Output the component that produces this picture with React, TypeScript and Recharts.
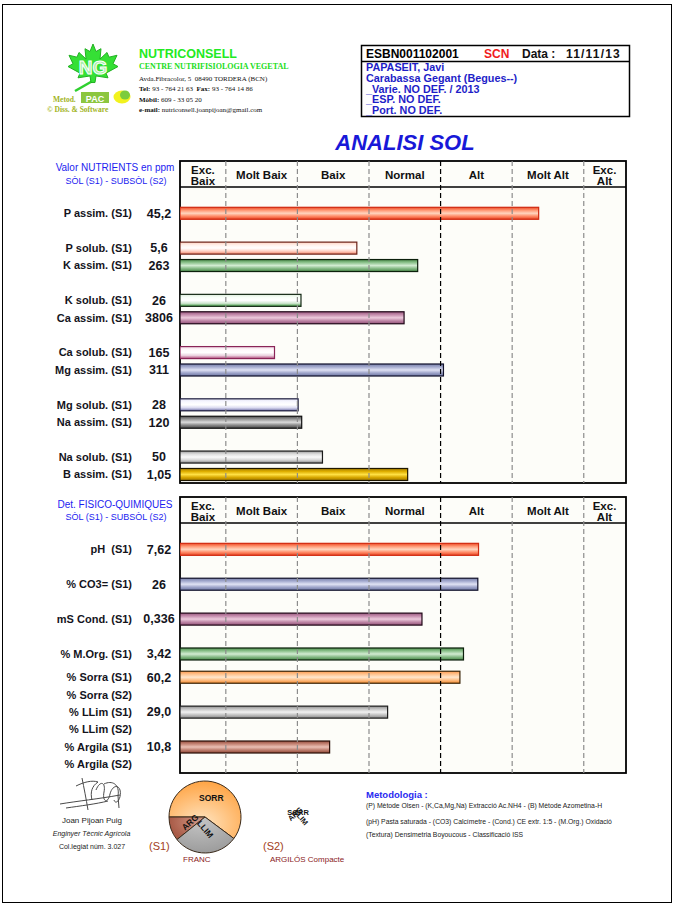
import React from "react";
import { BarChart, Bar, XAxis, YAxis, ReferenceLine, PieChart, Pie, Cell } from "recharts";

const FONT = "'Liberation Sans', Arial, sans-serif";
const SERIF = "'Liberation Serif', 'Times New Roman', serif";

// level scale: one unit per level, the two "Exc." columns are cut short
const LEVEL_LABELS = [["Exc.", "Baix"], ["Molt Baix"], ["Baix"], ["Normal"], ["Alt"], ["Molt Alt"], ["Exc.", "Alt"]];
const LEVEL_TICKS = [0.68, 1.5, 2.5, 3.5, 4.5, 5.5, 6.29];
const LEVEL_EDGES = [1, 2, 3, 4, 5, 6];
const SCALE_DOMAIN = [0.36, 6.59];

const NUTRIENT_NAMES = [
  "P assim. (S1)", "P solub. (S1)", "K assim. (S1)", "K solub. (S1)", "Ca assim. (S1)", "Ca solub. (S1)",
  "Mg assim. (S1)", "Mg solub. (S1)", "Na assim. (S1)", "Na solub. (S1)", "B assim. (S1)",
];
const NUTRIENT_VALUES = ["45,2", "5,6", "263", "26", "3806", "165", "311", "28", "120", "50", "1,05"];
const NUTRIENT_LEVELS = [5.37, 2.83, 3.68, 2.05, 3.49, 1.68, 4.04, 2.01, 2.06, 2.35, 3.54];
const NUTRIENT_COLORS = ["red", "redSol", "green", "greenSol", "mauve", "mauveSol", "lilac", "lilacSol", "grey", "greySol", "gold"];
const NUTRIENT_ROWS = [4, 10, 13, 19, 22, 28, 31, 37, 40, 46, 49];
const NUTRIENT_ROW_COUNT = 51;

const PHYS_NAMES = [
  "pH  (S1)", "% CO3= (S1)", "mS Cond. (S1)", "% M.Org. (S1)", "% Sorra (S1)", "% Sorra (S2)",
  "% LLim (S1)", "% LLim (S2)", "% Argila (S1)", "% Argila (S2)",
];
const PHYS_VALUES = ["7,62", "26", "0,336", "3,42", "60,2", "", "29,0", "", "10,8", ""];
const PHYS_LEVELS = [4.53, 4.52, 3.74, 4.32, 4.27, null, 3.26, null, 2.45, null];
const PHYS_COLORS = ["red", "lilac", "mauve", "green", "orange", "", "silver", "", "brown", ""];
const PHYS_ROWS = [4, 10, 16, 22, 26, 29, 32, 35, 38, 41];
const PHYS_ROW_COUNT = 43;

const TEXTURE_NAMES = ["SORR", "ARG", "LLIM"];
const TEXTURE_S1 = [60.2, 10.8, 29.0];
const TEXTURE_FILLS = ["url(#pie-sorr)", "url(#pie-arg)", "url(#pie-llim)"];
const TEXTURE_LABEL_R = [0.56, 0.44, 0.34];
const TEXTURE_LABEL_ROT = [0, -42, 50];

const PALETTE: Record<string, { stops: string[]; stroke: string }> = {
  red: { stops: ["#ee4a26", "#ff9874", "#ffd4be", "#ff8a66", "#e64424"], stroke: "#d02a10" },
  redSol: { stops: ["#ffd0c0", "#fff2ec", "#ffffff", "#ffd4c6", "#f08468"], stroke: "#6a2218" },
  green: { stops: ["#4c8e4c", "#8cc28c", "#d2ecd2", "#86ba86", "#488848"], stroke: "#0c200c" },
  greenSol: { stops: ["#dcecdc", "#f8fff8", "#ffffff", "#cfe6cf", "#3a963a"], stroke: "#142814" },
  mauve: { stops: ["#98587e", "#c68eae", "#eccadc", "#be86a6", "#925278"], stroke: "#200818" },
  mauveSol: { stops: ["#eed8e4", "#fff8fb", "#ffffff", "#ead0de", "#ae4476"], stroke: "#8a2458" },
  lilac: { stops: ["#767ea8", "#a6acd0", "#e0e2f4", "#9ea4ca", "#6e76a2"], stroke: "#10102a" },
  lilacSol: { stops: ["#e2e2f4", "#f8f8ff", "#ffffff", "#dadaf0", "#6e6ea6"], stroke: "#1a1a3a" },
  grey: { stops: ["#4c4c4c", "#989898", "#dcdcdc", "#888888", "#484848"], stroke: "#101010" },
  greySol: { stops: ["#9c9c9c", "#dedede", "#fafafa", "#d6d6d6", "#848484"], stroke: "#1a1a1a" },
  gold: { stops: ["#a67e00", "#deae00", "#ffe044", "#d6a600", "#9e7600"], stroke: "#201800" },
  orange: { stops: ["#ff9a4e", "#ffc490", "#ffe6cc", "#ffbc80", "#f08a30"], stroke: "#3a2408" },
  silver: { stops: ["#8e8e8e", "#c6c6c6", "#f2f2f2", "#bebebe", "#888888"], stroke: "#1c1c1c" },
  brown: { stops: ["#964e3e", "#c68676", "#eac0b4", "#be7e6e", "#8e4636"], stroke: "#2a1008" },
};

type Row = { key: string; name: string; value: string; level: number | null; color: string };

function buildRows(names: string[], values: string[], levels: (number | null)[], colors: string[], slots: number[], count: number): Row[] {
  const rows: Row[] = Array.from({ length: count }, (_, i) => ({ key: `s${i}`, name: "", value: "", level: null, color: "" }));
  slots.forEach((s, i) => {
    rows[s] = { key: `r${i}`, name: names[i], value: values[i], level: levels[i], color: colors[i] };
  });
  return rows;
}

const nutrientRows = buildRows(NUTRIENT_NAMES, NUTRIENT_VALUES, NUTRIENT_LEVELS, NUTRIENT_COLORS, NUTRIENT_ROWS, NUTRIENT_ROW_COUNT);
const physRows = buildRows(PHYS_NAMES, PHYS_VALUES, PHYS_LEVELS, PHYS_COLORS, PHYS_ROWS, PHYS_ROW_COUNT);
const textureData = TEXTURE_NAMES.map((name, i) => ({ name, value: TEXTURE_S1[i] }));

const GlassBar = (props: any) => {
  const { x, y, width, height, payload } = props;
  if (!payload || payload.level == null || !(width > 0)) return <g />;
  const p = PALETTE[payload.color];
  const h = 12;
  const cy = y + height / 2;
  return (
    <rect x={x} y={cy - h / 2} width={width} height={h} fill={`url(#bar-${payload.color})`} stroke={p.stroke} strokeWidth={1.2} />
  );
};

const HeaderTick = (props: any) => {
  const { x, y, payload } = props;
  const idx = LEVEL_TICKS.indexOf(payload.value);
  const lines = LEVEL_LABELS[idx] || [];
  const style = { fontFamily: FONT, fontSize: 11.5, fontWeight: 700, fill: "#111" };
  if (lines.length === 2) {
    return (
      <g>
        <text x={x} y={y + 13} textAnchor="middle" style={style}>{lines[0]}</text>
        <text x={x} y={y + 24} textAnchor="middle" style={style}>{lines[1]}</text>
      </g>
    );
  }
  return <text x={x} y={y + 18} textAnchor="middle" style={style}>{lines[0]}</text>;
};

const RowTick = (props: any) => {
  const { x, y, payload, rows } = props;
  const row = rows.find((r: Row) => r.key === payload.value);
  if (!row || !row.name) return <g />;
  const style: any = { fontFamily: FONT, fontSize: 11, fontWeight: 700, fill: "#14141c", whiteSpace: "pre" };
  return (
    <g>
      <text x={x - 48} y={y} dy={4} textAnchor="end" style={style}>{row.name}</text>
      {row.value ? (
        <text x={x - 21} y={y} dy={4.5} textAnchor="middle" style={{ ...style, fontSize: 12.5 }}>{row.value}</text>
      ) : null}
    </g>
  );
};

function LevelChart({ rows, boxTop, plotHeight }: { rows: Row[]; boxTop: number; plotHeight: number }) {
  const axisH = 20;
  const h = axisH + plotHeight + 4;
  return (
    <div style={{ position: "absolute", left: 0, top: boxTop - axisH, width: 676, height: h }}>
      <BarChart width={676} height={h} data={rows} layout="vertical" margin={{ top: 0, right: 50, bottom: 4, left: 10 }}>
        <XAxis
          type="number"
          orientation="top"
          domain={SCALE_DOMAIN}
          ticks={LEVEL_TICKS}
          interval={0}
          height={axisH}
          axisLine={false}
          tickLine={false}
          tickSize={0}
          tickMargin={0}
          allowDataOverflow
          tick={HeaderTick}
        />
        <YAxis
          type="category"
          dataKey="key"
          width={170}
          interval={0}
          axisLine={false}
          tickLine={false}
          tickSize={0}
          tickMargin={0}
          padding={{ top: 26, bottom: 0 }}
          tick={(p: any) => <RowTick {...p} rows={rows} />}
        />
        {LEVEL_EDGES.map((e) => (
          <ReferenceLine key={e} x={e} stroke={e === 4 ? "#000" : "#8c8c8c"} strokeWidth={1.2} strokeDasharray="5 3" />
        ))}
        <Bar dataKey="level" isAnimationActive={false} shape={<GlassBar />} />
      </BarChart>
    </div>
  );
}

const renderTextureLabel = (props: any) => {
  const { cx, cy, midAngle, outerRadius, index } = props;
  const r = outerRadius * TEXTURE_LABEL_R[index];
  const rad = (midAngle * Math.PI) / 180;
  const lx = cx + r * Math.cos(rad);
  const ly = cy - r * Math.sin(rad);
  return (
    <text
      x={lx}
      y={ly}
      dy={3}
      textAnchor="middle"
      transform={`rotate(${TEXTURE_LABEL_ROT[index]} ${lx} ${ly})`}
      style={{ fontFamily: FONT, fontSize: 8.5, fontWeight: 700, fill: "#111" }}
    >
      {TEXTURE_NAMES[index]}
    </text>
  );
};

export default function App() {
  const blue = "#1c1cf0";
  return (
    <div style={{ position: "absolute", left: 0, top: 0, width: 676, height: 907, background: "#fff", overflow: "hidden" }}>
      <svg width={676} height={907} style={{ position: "absolute", left: 0, top: 0 }}>
        <defs>
          {Object.keys(PALETTE).map((k) => (
            <linearGradient key={k} id={`bar-${k}`} x1="0" y1="0" x2="0" y2="1">
              {PALETTE[k].stops.map((c, i) => (
                <stop key={i} offset={`${i * 25}%`} stopColor={c} />
              ))}
            </linearGradient>
          ))}
          <radialGradient id="pie-sorr" cx="45%" cy="75%" r="75%">
            <stop offset="0%" stopColor="#ffe6c4" />
            <stop offset="100%" stopColor="#ffa444" />
          </radialGradient>
          <radialGradient id="pie-arg" cx="90%" cy="20%" r="90%">
            <stop offset="0%" stopColor="#d49a88" />
            <stop offset="100%" stopColor="#a85a46" />
          </radialGradient>
          <radialGradient id="pie-llim" cx="40%" cy="10%" r="90%">
            <stop offset="0%" stopColor="#c4c4c4" />
            <stop offset="100%" stopColor="#9c9c9c" />
          </radialGradient>
        </defs>

        {/* page frame */}
        <rect x={2.5} y={4.5} width={669} height={898} fill="none" stroke="#000" strokeWidth={1} />

        {/* logo */}
        <g transform="translate(68,44) scale(0.5,0.47)">
          <line x1={50} y1={78} x2={14} y2={100} stroke="#2fd02f" strokeWidth={5} />
          <polygon
            points="50,0 56,16 66,10 64,32 78,18 82,28 98,24 90,42 100,48 76,62 80,72 56,68 54,82 46,82 44,68 20,72 24,62 0,48 10,42 2,24 18,28 22,18 36,32 34,10 44,16"
            fill="#35e035"
            stroke="#1fae1f"
            strokeWidth={2}
          />
        </g>
        <text x={93} y={74} textAnchor="middle" style={{ fontFamily: FONT, fontSize: 19, fontWeight: 700, fill: "#a8eea8", stroke: "#ffffff", strokeWidth: 1 }}>NG</text>
        <text x={53} y={101.5} style={{ fontFamily: SERIF, fontSize: 7.5, fontWeight: 700, fill: "#a2b424" }}>Metod.</text>
        <rect x={81} y={92} width={28} height={11} fill="#8cc63f" />
        <text x={95} y={101.5} textAnchor="middle" style={{ fontFamily: FONT, fontSize: 9, fontWeight: 700, fill: "#fff" }}>PAC</text>
        <ellipse cx={122} cy={97} rx={8.5} ry={6.5} fill="#f2f21e" />
        <ellipse cx={125} cy={95} rx={5} ry={4.5} fill="#7ccc3c" />
        <text x={47} y={112} style={{ fontFamily: SERIF, fontSize: 7.5, fontWeight: 700, fill: "#a2b424" }}>© Diss. &amp; Software</text>

        <text x={139} y={58} style={{ fontFamily: FONT, fontSize: 12.5, fontWeight: 700, fill: "#22ea22" }}>NUTRICONSELL</text>
        <text x={139} y={69} style={{ fontFamily: SERIF, fontSize: 8, fontWeight: 700, fill: "#22dd22" }}>CENTRE NUTRIFISIOLOGIA VEGETAL</text>
        <text x={139} y={81} style={{ fontFamily: SERIF, fontSize: 7, fill: "#111", whiteSpace: "pre" }}>Avda.Fibracolor, 5  08490 TORDERA (BCN)</text>
        <text x={139} y={91} style={{ fontFamily: SERIF, fontSize: 7, fill: "#111", whiteSpace: "pre" }}>
          <tspan fontWeight={700}>Tel:</tspan> 93 - 764 21 63  <tspan fontWeight={700}>Fax:</tspan> 93 - 764 14 86
        </text>
        <text x={139} y={102} style={{ fontFamily: SERIF, fontSize: 7, fill: "#111" }}>
          <tspan fontWeight={700}>Mòbil:</tspan> 609 - 33 05 20
        </text>
        <text x={139} y={112} style={{ fontFamily: SERIF, fontSize: 7, fill: "#111" }}>
          <tspan fontWeight={700}>e-mail:</tspan> nutriconsell.joanpijoan@gmail.com
        </text>

        {/* sample header box */}
        <rect x={361.5} y={45.5} width={268} height={71} fill="#fff" stroke="#000" strokeWidth={1.5} />
        <line x1={361.5} y1={61.5} x2={629.5} y2={61.5} stroke="#000" strokeWidth={1.5} />
        <g style={{ fontFamily: FONT, fontSize: 12, fontWeight: 700 }}>
          <text x={366} y={58}>ESBN001102001</text>
          <text x={484} y={58} fill="#f01c1c">SCN</text>
          <text x={522} y={58} fill="#111">Data :</text>
          <text x={566} y={58} fill="#111" letterSpacing={1.2}>11/11/13</text>
        </g>
        <g style={{ fontFamily: FONT, fontSize: 10.8, fontWeight: 700, fill: "#1e1ec8" }}>
          <text x={366} y={71}>PAPASEIT, Javi</text>
          <text x={366} y={81.5}>Carabassa Gegant (Begues--)</text>
          <text x={366} y={92.5}>_Varie. NO DEF. / 2013</text>
          <text x={366} y={103.3}>_ESP. NO DEF.</text>
          <text x={366} y={113.8}>_Port. NO DEF.</text>
        </g>

        <text x={405} y={150} textAnchor="middle" style={{ fontFamily: FONT, fontSize: 22, fontWeight: 700, fontStyle: "italic", fill: "#1818d8" }}>ANALISI SOL</text>

        {/* nutrient box */}
        <text x={115} y={171} textAnchor="middle" style={{ fontFamily: FONT, fontSize: 10, fill: blue }}>Valor NUTRIENTS en ppm</text>
        <text x={116} y={183.5} textAnchor="middle" style={{ fontFamily: FONT, fontSize: 9, fill: blue }}>SÒL (S1) - SUBSÒL (S2)</text>
        <rect x={180} y={161} width={446} height={322} fill="#fdfdf9" stroke="#000" strokeWidth={1.8} />
        <line x1={180} y1={187} x2={626} y2={187} stroke="#000" strokeWidth={1.5} />

        {/* physico-chemical box */}
        <text x={115} y={507.5} textAnchor="middle" style={{ fontFamily: FONT, fontSize: 10, fill: blue }}>Det. FISICO-QUIMIQUES</text>
        <text x={116} y={519.5} textAnchor="middle" style={{ fontFamily: FONT, fontSize: 9, fill: blue }}>SÒL (S1) - SUBSÒL (S2)</text>
        <rect x={180} y={497} width={446} height={276} fill="#fdfdf9" stroke="#000" strokeWidth={1.8} />
        <line x1={180} y1={523} x2={626} y2={523} stroke="#000" strokeWidth={1.5} />

        {/* signature */}
        <g fill="none" stroke="#4a4a4a" strokeWidth={1}>
          <path d="M60,804 C78,801 98,799 120,795" />
          <path d="M66,808 C80,806 96,804 108,801" />
          <path d="M82,778 C84,788 86,798 88,810" />
          <path d="M76,786 C84,782 92,780 98,782 C92,786 90,792 92,800" />
          <path d="M96,790 C100,780 106,782 104,792 C102,802 108,804 110,794 C112,786 118,784 120,790 C122,798 116,806 114,800" />
          <path d="M104,784 C112,780 120,784 118,796 L119,808" />
        </g>
        <text x={92} y={823} textAnchor="middle" style={{ fontFamily: FONT, fontSize: 8, fill: "#222" }}>Joan Pijoan Puig</text>
        <text x={91.5} y={836} textAnchor="middle" style={{ fontFamily: FONT, fontSize: 7, fontStyle: "italic", fill: "#222" }}>Enginyer Tècnic Agrícola</text>
        <text x={92} y={849} textAnchor="middle" style={{ fontFamily: FONT, fontSize: 7, fill: "#222" }}>Col.legiat núm. 3.027</text>

        <text x={149} y={850} style={{ fontFamily: FONT, fontSize: 11, fill: "#a23e1c" }}>(S1)</text>
        <text x={183} y={862} style={{ fontFamily: FONT, fontSize: 8, fill: "#8a2222" }}>FRANC</text>
        <text x={263} y={850} style={{ fontFamily: FONT, fontSize: 11, fill: "#a23e1c" }}>(S2)</text>
        <text x={270} y={862} style={{ fontFamily: FONT, fontSize: 8, fill: "#8a2222" }}>ARGILÓS Compacte</text>

        {/* empty subsoil texture: labels collapse on one point */}
        <g style={{ fontFamily: FONT, fontSize: 7.5, fontWeight: 700, fill: "#111" }}>
          <text x={298} y={815} textAnchor="middle">SORR</text>
          <text x={297} y={816} textAnchor="middle" transform="rotate(-42 297 816)">ARG</text>
          <text x={299} y={819} textAnchor="middle" transform="rotate(50 299 819)">LLIM</text>
        </g>

        <text x={366} y={797.5} style={{ fontFamily: FONT, fontSize: 9.5, fontWeight: 700, fill: "#2a2af0" }}>Metodologia :</text>
        <g style={{ fontFamily: FONT, fontSize: 6.8, fill: "#222" }}>
          <text x={366} y={808.3}>(P) Mètode Olsen - (K,Ca,Mg,Na) Extracció Ac.NH4 - (B) Mètode Azometina-H</text>
          <text x={366} y={824}>(pH) Pasta saturada - (CO3) Calcímetre - (Cond.) CE extr. 1:5 - (M.Org.) Oxidació</text>
          <text x={366} y={836.5}>(Textura) Densimetria Boyoucous - Classificació ISS</text>
        </g>
      </svg>

      <LevelChart rows={nutrientRows} boxTop={161} plotHeight={322} />
      <LevelChart rows={physRows} boxTop={497} plotHeight={276} />

      <div style={{ position: "absolute", left: 155, top: 767, width: 100, height: 100 }}>
        <PieChart width={100} height={100} margin={{ top: 0, right: 0, bottom: 0, left: 0 }}>
          <Pie
            data={textureData}
            dataKey="value"
            nameKey="name"
            cx={50}
            cy={50}
            outerRadius={36}
            startAngle={-36.7}
            endAngle={323.3}
            stroke="#3a2a1a"
            strokeWidth={1}
            label={renderTextureLabel}
            labelLine={false}
            isAnimationActive={false}
          >
            {textureData.map((d, i) => (
              <Cell key={d.name} fill={TEXTURE_FILLS[i]} />
            ))}
          </Pie>
        </PieChart>
      </div>
    </div>
  );
}
